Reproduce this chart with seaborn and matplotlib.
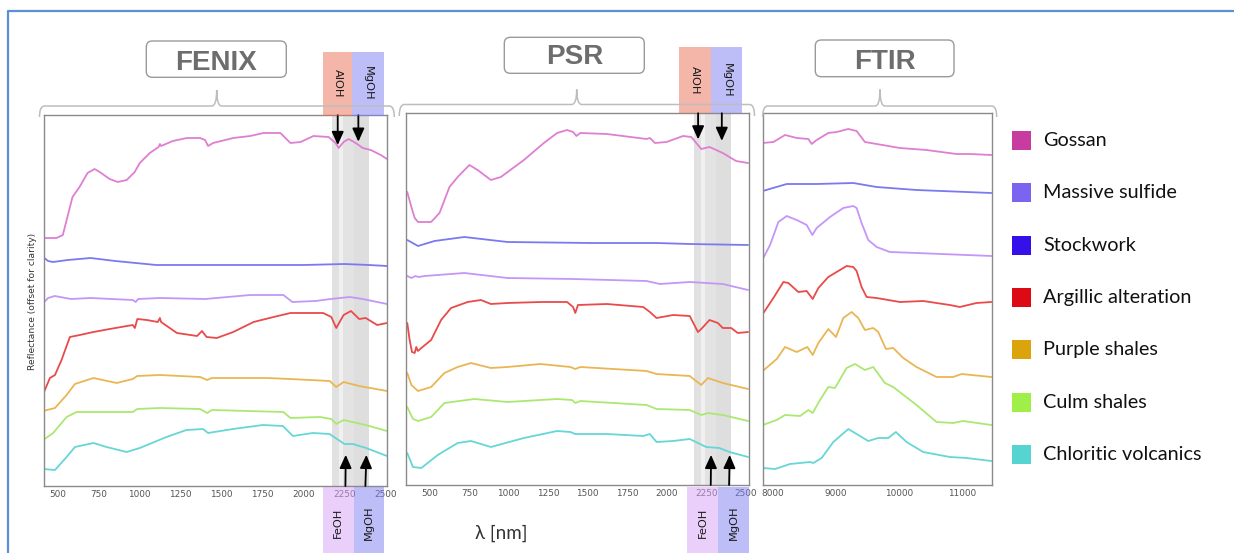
import matplotlib
matplotlib.use("Agg")
import matplotlib.pyplot as plt
import pandas as pd
import seaborn as sns
from matplotlib.patches import Rectangle, FancyBboxPatch, PathPatch
from matplotlib.path import Path
from matplotlib.lines import Line2D
from matplotlib.transforms import blended_transform_factory

# ---------------------------------------------------------------- data
LITHOLOGIES = ["Gossan", "Massive sulfide", "Stockwork", "Argillic alteration",
               "Purple shales", "Culm shales", "Chloritic volcanics"]
LINE_COLORS = ["#de7fd2", "#7a7af0", "#c496f8", "#e94a4a",
               "#eab653", "#abe871", "#66d6d6"]
KEY_COLORS = ["#c83ca0", "#7b64f0", "#3510e8", "#dc0a14",
              "#dca40c", "#a0ee48", "#55d4d2"]

# (wavelength [nm], reflectance offset for clarity)
FENIX_GOSSAN = [(410, 2.48), (491, 2.48), (530, 2.51), (558, 2.69), (589, 2.89), (632, 2.99),
                (681, 3.13), (724, 3.17), (755, 3.14), (816, 3.07), (865, 3.04), (920, 3.06),
                (969, 3.14), (1000, 3.23), (1061, 3.33), (1115, 3.39), (1123, 3.42), (1130, 3.40),
                (1202, 3.45), (1288, 3.48), (1368, 3.48), (1399, 3.46), (1417, 3.40), (1448, 3.43),
                (1571, 3.48), (1675, 3.50), (1755, 3.53), (1859, 3.53), (1920, 3.43), (1982, 3.44),
                (2061, 3.50), (2153, 3.49), (2196, 3.43), (2215, 3.38), (2245, 3.44), (2276, 3.47),
                (2319, 3.43), (2362, 3.38), (2411, 3.36), (2472, 3.31), (2510, 3.27)]
FENIX_MASSIVE = [(410, 2.29), (440, 2.25), (470, 2.24), (560, 2.26), (700, 2.28), (850, 2.25),
                 (1100, 2.21), (1500, 2.21), (1800, 2.21), (2000, 2.21), (2250, 2.22),
                 (2400, 2.21), (2510, 2.20)]
FENIX_STOCKWORK = [(410, 1.83), (440, 1.88), (480, 1.90), (580, 1.87), (700, 1.88), (957, 1.86),
                   (975, 1.84), (990, 1.87), (1123, 1.88), (1400, 1.87), (1675, 1.91), (1877, 1.91),
                   (1932, 1.84), (2074, 1.85), (2166, 1.87), (2282, 1.89), (2362, 1.87), (2510, 1.82)]
FENIX_ARGILLIC = [(410, 0.92), (451, 1.08), (482, 1.11), (522, 1.26), (573, 1.49), (634, 1.51),
                  (717, 1.54), (816, 1.57), (957, 1.61), (970, 1.58), (985, 1.67), (1043, 1.66),
                  (1110, 1.64), (1123, 1.68), (1130, 1.64), (1227, 1.53), (1350, 1.50), (1380, 1.55),
                  (1408, 1.49), (1470, 1.48), (1571, 1.54), (1695, 1.64), (1817, 1.69), (1920, 1.73),
                  (2120, 1.73), (2170, 1.69), (2200, 1.58), (2245, 1.71), (2290, 1.75), (2340, 1.67),
                  (2380, 1.68), (2450, 1.61), (2510, 1.63)]
FENIX_PURPLE = [(410, 0.75), (482, 0.78), (553, 0.91), (604, 1.02), (717, 1.08), (859, 1.03),
                (957, 1.07), (985, 1.10), (1123, 1.11), (1368, 1.09), (1412, 1.06), (1440, 1.08),
                (1775, 1.08), (1920, 1.07), (2160, 1.05), (2200, 0.99), (2245, 1.04), (2340, 1.00),
                (2510, 0.95)]
FENIX_CULM = [(410, 0.46), (471, 0.53), (553, 0.69), (614, 0.74), (957, 0.74), (985, 0.77),
              (1123, 0.78), (1368, 0.77), (1412, 0.73), (1440, 0.76), (1877, 0.74), (1920, 0.68),
              (2100, 0.69), (2170, 0.67), (2200, 0.62), (2245, 0.66), (2380, 0.61), (2510, 0.55)]
FENIX_CHLORITIC = [(410, 0.17), (482, 0.16), (553, 0.29), (604, 0.39), (717, 0.43), (797, 0.39),
                   (919, 0.34), (1000, 0.38), (1163, 0.49), (1285, 0.56), (1386, 0.57), (1417, 0.53),
                   (1569, 0.57), (1752, 0.61), (1874, 0.60), (1935, 0.50), (2057, 0.53), (2159, 0.52),
                   (2250, 0.42), (2301, 0.42), (2382, 0.38), (2510, 0.30)]

PSR_GOSSAN = [(358, 2.93), (384, 2.78), (405, 2.67), (426, 2.63), (509, 2.63), (562, 2.72),
              (625, 2.98), (677, 3.08), (751, 3.20), (803, 3.15), (887, 3.05), (950, 3.08),
              (1096, 3.25), (1222, 3.42), (1306, 3.52), (1369, 3.55), (1407, 3.53), (1428, 3.49),
              (1453, 3.52), (1621, 3.51), (1872, 3.46), (1893, 3.47), (1925, 3.42), (1998, 3.43),
              (2103, 3.49), (2155, 3.48), (2218, 3.36), (2270, 3.38), (2354, 3.32), (2438, 3.24),
              (2514, 3.22)]
PSR_MASSIVE = [(358, 2.45), (426, 2.39), (530, 2.44), (719, 2.48), (992, 2.43), (1516, 2.42),
               (1935, 2.42), (2145, 2.41), (2514, 2.40)]
PSR_STOCKWORK = [(358, 2.09), (384, 2.07), (410, 2.09), (430, 2.08), (467, 2.09), (719, 2.12),
                 (992, 2.07), (1411, 2.06), (1872, 2.04), (1956, 2.01), (2145, 2.03), (2354, 2.01),
                 (2514, 1.95)]
PSR_ARGILLIC = [(358, 1.62), (373, 1.45), (388, 1.33), (405, 1.32), (415, 1.38), (425, 1.34),
                (447, 1.37), (509, 1.45), (572, 1.65), (635, 1.77), (740, 1.83), (824, 1.85),
                (887, 1.81), (992, 1.82), (1201, 1.83), (1369, 1.83), (1407, 1.78), (1421, 1.72),
                (1438, 1.80), (1621, 1.81), (1851, 1.78), (1893, 1.73), (1935, 1.67), (2040, 1.70),
                (2145, 1.69), (2197, 1.53), (2218, 1.56), (2270, 1.65), (2323, 1.62), (2354, 1.57),
                (2407, 1.57), (2449, 1.52), (2514, 1.53)]
PSR_PURPLE = [(358, 1.12), (384, 1.00), (426, 0.94), (509, 0.98), (593, 1.12), (677, 1.18),
              (761, 1.22), (887, 1.17), (992, 1.18), (1201, 1.21), (1390, 1.18), (1421, 1.16),
              (1453, 1.18), (1872, 1.14), (1935, 1.11), (2145, 1.09), (2218, 1.00), (2260, 1.07),
              (2354, 1.02), (2514, 0.96)]
PSR_CULM = [(358, 0.78), (394, 0.66), (426, 0.64), (509, 0.68), (593, 0.82), (782, 0.86),
            (992, 0.83), (1306, 0.86), (1400, 0.85), (1421, 0.82), (1453, 0.84), (1872, 0.80),
            (1935, 0.76), (2145, 0.75), (2218, 0.70), (2260, 0.72), (2354, 0.70), (2514, 0.64)]
PSR_CHLORITIC = [(358, 0.32), (394, 0.18), (447, 0.17), (551, 0.30), (677, 0.42), (761, 0.44),
                 (887, 0.38), (1096, 0.47), (1306, 0.54), (1390, 0.53), (1421, 0.51), (1621, 0.51),
                 (1851, 0.49), (1893, 0.51), (1935, 0.43), (2040, 0.44), (2145, 0.46), (2249, 0.38),
                 (2333, 0.37), (2396, 0.33), (2514, 0.28)]

FTIR_GOSSAN = [(7836, 3.42), (8005, 3.43), (8190, 3.50), (8376, 3.47), (8561, 3.46), (8614, 3.41),
               (8693, 3.45), (8878, 3.52), (9011, 3.53), (9196, 3.56), (9328, 3.54), (9460, 3.43),
               (9646, 3.41), (10016, 3.37), (10439, 3.35), (10915, 3.31), (11127, 3.31), (11471, 3.30)]
FTIR_MASSIVE = [(7836, 2.94), (8217, 3.01), (8693, 3.01), (9275, 3.02), (9646, 2.98),
                (10280, 2.95), (11471, 2.92)]
FTIR_STOCKWORK = [(7836, 2.26), (7952, 2.40), (8085, 2.63), (8217, 2.69), (8376, 2.65), (8534, 2.60),
                  (8624, 2.50), (8693, 2.57), (8905, 2.68), (9116, 2.77), (9275, 2.79), (9328, 2.77),
                  (9407, 2.62), (9513, 2.45), (9646, 2.38), (9857, 2.33), (10280, 2.32), (11471, 2.29)]
FTIR_ARGILLIC = [(7836, 1.71), (8005, 1.87), (8164, 2.03), (8243, 2.02), (8402, 1.93), (8534, 1.94),
                 (8630, 1.86), (8720, 1.97), (8878, 2.08), (9169, 2.19), (9275, 2.18), (9328, 2.14),
                 (9407, 1.98), (9487, 1.88), (9646, 1.87), (10016, 1.83), (10386, 1.84), (10810, 1.80),
                 (10968, 1.78), (11233, 1.82), (11471, 1.83)]
FTIR_PURPLE = [(7836, 1.14), (8058, 1.26), (8190, 1.38), (8376, 1.33), (8545, 1.38), (8630, 1.30),
               (8720, 1.42), (8878, 1.56), (9000, 1.48), (9116, 1.67), (9249, 1.73), (9354, 1.67),
               (9460, 1.55), (9593, 1.57), (9672, 1.53), (9794, 1.36), (9910, 1.37), (10069, 1.27),
               (10280, 1.18), (10598, 1.08), (10862, 1.08), (10995, 1.11), (11471, 1.08)]
FTIR_CULM = [(7836, 0.60), (8058, 0.65), (8190, 0.70), (8429, 0.69), (8561, 0.75), (8630, 0.72),
             (8746, 0.85), (8878, 0.98), (8984, 0.97), (9169, 1.17), (9302, 1.21), (9460, 1.15),
             (9593, 1.18), (9778, 1.02), (9910, 0.98), (10280, 0.80), (10598, 0.63), (10862, 0.62),
             (11021, 0.64), (11471, 0.60)]
FTIR_CHLORITIC = [(7836, 0.17), (8032, 0.16), (8270, 0.21), (8587, 0.23), (8640, 0.22), (8772, 0.27),
                  (8958, 0.43), (9196, 0.56), (9354, 0.50), (9513, 0.44), (9672, 0.47), (9831, 0.47),
                  (9952, 0.53), (10122, 0.43), (10386, 0.33), (10810, 0.28), (11074, 0.27), (11471, 0.24)]

FENIX_SPECTRA = [FENIX_GOSSAN, FENIX_MASSIVE, FENIX_STOCKWORK, FENIX_ARGILLIC,
                 FENIX_PURPLE, FENIX_CULM, FENIX_CHLORITIC]
PSR_SPECTRA = [PSR_GOSSAN, PSR_MASSIVE, PSR_STOCKWORK, PSR_ARGILLIC,
               PSR_PURPLE, PSR_CULM, PSR_CHLORITIC]
FTIR_SPECTRA = [FTIR_GOSSAN, FTIR_MASSIVE, FTIR_STOCKWORK, FTIR_ARGILLIC,
                FTIR_PURPLE, FTIR_CULM, FTIR_CHLORITIC]

SWIR_TICKS = [500, 750, 1000, 1250, 1500, 1750, 2000, 2250, 2500]
LWIR_TICKS = [8000, 9000, 10000, 11000]


def to_frame(spectra):
    rows = [(name, wl, r) for name, pts in zip(LITHOLOGIES, spectra) for wl, r in pts]
    return pd.DataFrame(rows, columns=["lithology", "wavelength", "reflectance"])


# ---------------------------------------------------------------- figure
W, H = 1234, 553
sns.set_theme(style="white")
plt.rcParams["font.family"] = ["DejaVu Sans"]

fig = plt.figure(figsize=(W / 100, H / 100), dpi=100)
fig.patch.set_facecolor("white")
inch = fig.dpi_scale_trans


def P(x, y):
    """pixel position (from top-left) -> inches from bottom-left"""
    return (x / 100, (H - y) / 100)


def add_axes_px(left, top, right, bottom):
    return fig.add_axes([left / W, 1 - bottom / H, (right - left) / W, (bottom - top) / H])


palette = dict(zip(LITHOLOGIES, LINE_COLORS))
panels = [
    dict(name="FENIX", box=(44, 115, 387, 486), data=FENIX_SPECTRA, xlim=(415, 2510),
         ylim=(0, 3.71), xticks=SWIR_TICKS, yticks=[0.735, 1.47, 2.205, 2.94]),
    dict(name="PSR", box=(406, 113, 749, 485), data=PSR_SPECTRA, xlim=(350, 2520),
         ylim=(0, 3.72), xticks=SWIR_TICKS, yticks=[0.34, 0.83, 1.32, 1.81, 2.30, 2.79, 3.28]),
    dict(name="FTIR", box=(763, 113, 992, 485), data=FTIR_SPECTRA, xlim=(7840, 11480),
         ylim=(0, 3.72), xticks=LWIR_TICKS, yticks=[0.663, 1.326, 1.989, 2.652, 3.315]),
]

axes = {}
for p in panels:
    ax = add_axes_px(*p["box"])
    df = to_frame(p["data"])
    sns.lineplot(data=df, x="wavelength", y="reflectance", hue="lithology",
                 hue_order=LITHOLOGIES, palette=palette, estimator=None, sort=False,
                 legend=False, linewidth=1.3, ax=ax)
    ax.set_xlim(*p["xlim"])
    ax.set_ylim(*p["ylim"])
    ax.set_xticks(p["xticks"])
    ax.set_yticks(p["yticks"])
    ax.set_yticklabels([])
    ax.set_xlabel("")
    ax.set_ylabel("")
    ax.tick_params(axis="both", direction="in", length=3, width=0.8, color="#8a8a8a",
                   labelsize=6.4, labelcolor="#555555", pad=3)
    for s in ax.spines.values():
        s.set_color("#8a8a8a")
        s.set_linewidth(1.0)
    axes[p["name"]] = ax

# diagnostic absorption windows
for name in ("FENIX", "PSR"):
    ax = axes[name]
    ax.axvspan(2172, 2403, color="#f0f0f0", lw=0, zorder=0)
    ax.axvspan(2172, 2215, color="#e1e1e1", lw=0, zorder=0)
    ax.axvspan(2243, 2403, color="#e3e3e3", lw=0, zorder=0)
    ax.axvspan(2310, 2403, color="#dedede", lw=0, zorder=0)

# feature label boxes: (label, x0, x1, rgb, alpha, top px, bottom px, rotation)
FEATURE_BOXES = {
    "FENIX": [("AlOH", 2118, 2297, "#eb6e55", 0.5, 51.7, 115.7, -90),
              ("MgOH", 2297, 2490, "#7d7df2", 0.5, 51.7, 115.7, -90),
              ("FeOH", 2118, 2307, "#d4a0f5", 0.5, 486.7, 560, 90),
              ("MgOH", 2307, 2492, "#7d7df2", 0.5, 486.7, 560, 90)],
    "PSR": [("AlOH", 2078, 2278, "#eb6e55", 0.5, 47.3, 112.7, -90),
            ("MgOH", 2278, 2478, "#7d7df2", 0.5, 47.3, 112.7, -90),
            ("FeOH", 2127, 2326, "#d4a0f5", 0.5, 486.7, 560, 90),
            ("MgOH", 2326, 2520, "#7d7df2", 0.5, 486.7, 560, 90)],
}
for name, boxes in FEATURE_BOXES.items():
    ax = axes[name]
    tr = blended_transform_factory(ax.transData, fig.transFigure)
    for label, x0, x1, col, alpha, ytop, ybot, rot in boxes:
        y0 = 1 - ybot / H
        y1 = 1 - ytop / H
        fig.add_artist(Rectangle((x0, y0), x1 - x0, y1 - y0, transform=tr,
                                 facecolor=col, alpha=alpha, edgecolor="none", zorder=1))
        ymid = 1 - ((ytop + min(ybot, H)) / 2 + (3 if rot == 90 else 0)) / H
        fig.text((x0 + x1) / 2, ymid, label, transform=tr, rotation=rot,
                 ha="center", va="center", fontsize=8.2, color="#1a1a1a", zorder=3)

# arrows: (x at base, x at tip, tip height in axes fraction, from top?)
FEATURE_ARROWS = {
    "FENIX": [(2209, 2209, 0.919, True), (2335, 2335, 0.928, True),
              (2256, 2258, 0.084, False), (2378, 2384, 0.084, False)],
    "PSR": [(2198, 2198, 0.929, True), (2348, 2348, 0.925, True),
            (2278, 2280, 0.081, False), (2394, 2398, 0.081, False)],
}
for name, arrows in FEATURE_ARROWS.items():
    ax = axes[name]
    for xb, xt, yt, from_top in arrows:
        ax.annotate("", xy=(xt, yt), xytext=(xb, 1.0 if from_top else 0.0),
                    xycoords=("data", "axes fraction"), textcoords=("data", "axes fraction"),
                    annotation_clip=False,
                    arrowprops=dict(arrowstyle="-|>,head_length=0.8,head_width=0.36",
                                    mutation_scale=10, lw=1.3, color="black",
                                    shrinkA=0, shrinkB=0))

# instrument title boxes and braces
TITLES = [("FENIX", (146.3, 41, 286.3, 77.3), 70.0, (39.5, 394.3, 106, 216.7, 90, 117)),
          ("PSR", (504.3, 37.3, 644.3, 73.3), 63.5, (399.3, 754.5, 104.5, 576.7, 89.5, 116)),
          ("FTIR", (815.3, 40, 954, 76.7), 69.3, (762.7, 996.7, 106, 880, 89.5, 117))]
for text, (bx0, by0, bx1, by1), base, (l, r, yl, xc, yp, ye) in TITLES:
    fig.add_artist(FancyBboxPatch(P(bx0, by1), (bx1 - bx0) / 100, (by1 - by0) / 100,
                                  boxstyle="round,pad=0,rounding_size=0.06", transform=inch,
                                  facecolor="white", edgecolor="#9a9a9a", lw=1.0))
    fig.text(*P((bx0 + bx1) / 2, base), text, transform=inch, ha="center", va="baseline",
             fontsize=20, fontweight="bold", color="#6d6d6d", family="Liberation Sans")
    verts = [P(l, ye), P(l, yl), P(l + 5, yl), P(xc - 5, yl), P(xc, yl), P(xc, yp),
             P(xc, yl), P(xc + 5, yl), P(r - 5, yl), P(r, yl), P(r, ye)]
    codes = [Path.MOVETO, Path.CURVE3, Path.CURVE3, Path.LINETO, Path.CURVE3, Path.CURVE3,
             Path.CURVE3, Path.CURVE3, Path.LINETO, Path.CURVE3, Path.CURVE3]
    fig.add_artist(PathPatch(Path(verts, codes), transform=inch, fill=False,
                             edgecolor="#bdbdbd", lw=1.1))

# outer frame
fx, fy = zip(P(8, H + 5), P(8, 11), P(W + 5, 11))
fig.add_artist(Line2D(fx, fy, transform=inch, color="#5b8fd6", lw=1.6))

# axis labels
fig.text(*P(33, 301.5), "Reflectance (offset for clarity)", transform=inch, rotation=90,
         ha="center", va="center", fontsize=6.6, color="#333333")
fig.text(*P(501.7, 533), "λ [nm]", transform=inch, ha="center", va="center",
         fontsize=13.5, color="#333333", family=["Lato", "DejaVu Sans"])

# legend
for i, (name, col) in enumerate(zip(LITHOLOGIES, KEY_COLORS)):
    yc = 139 + i * 52.3
    fig.add_artist(Rectangle(P(1011.5, yc + 11), 0.19, 0.19, transform=inch,
                             facecolor=col, edgecolor="none"))
    fig.text(*P(1043, yc + 7.2), name, transform=inch, ha="left", va="baseline",
             fontsize=14.3, color="#111111", family=["Lato", "DejaVu Sans"])

fig.savefig("out.png", dpi=100)
